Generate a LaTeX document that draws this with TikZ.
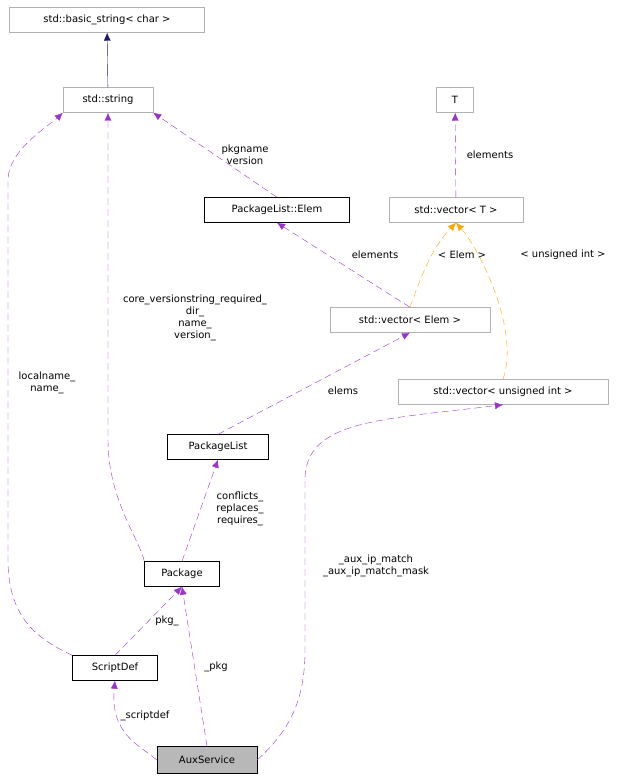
\documentclass[tikz,border=0pt]{standalone}
\usepackage{fontspec}
\setmainfont{DejaVu Sans}
\usetikzlibrary{arrows.meta}
\definecolor{edgepurple}{HTML}{9A32CD}
\definecolor{edgenavy}{HTML}{191970}
\definecolor{edgeorange}{HTML}{FFA500}
\tikzset{
  cls/.style={draw, fill=white, font=\fontsize{10}{12}\selectfont, minimum height=25pt, inner xsep=4pt},
  ext/.style={cls, draw=black!30},
  use/.style={dashed, dash pattern=on 7pt off 4pt, edgepurple, -{Latex[length=8pt,width=7pt]}},
  inst/.style={use, edgeorange},
  lbl/.style={font=\fontsize{10}{12}\selectfont, align=center, text=black}
}
\begin{document}
\begin{tikzpicture}[x=1pt,y=-1pt]
	\useasboundingbox (0,0) rectangle (629,781);
	% classes
	\node (basicstr) [ext, minimum width=195pt] at (107,20) {std::basic\_string< char >};
	\node (str) [ext, minimum width=90pt] at (108,100) {std::string};
	\node (tparam) [ext, minimum width=37pt] at (455,100) {T};
	\node (elem) [cls, minimum width=145pt] at (277,210) {PackageList::Elem};
	\node (vect) [ext, minimum width=134pt] at (456,210) {std::vector< T >};
	\node (vecelem) [ext, minimum width=160pt] at (410,320) {std::vector< Elem >};
	\node (vecuint) [ext, minimum width=210pt] at (503,392) {std::vector< unsigned int >};
	\node (pkglist) [cls, minimum width=101pt] at (218,447) {PackageList};
	\node (pkg) [cls, minimum width=75pt] at (182,574) {Package};
	\node (script) [cls, minimum width=85pt] at (115,668) {ScriptDef};
	\node (aux) [cls, fill=black!28, minimum width=100pt, minimum height=27pt] at (207,760) {AuxService};
	% relations
	\draw [edgenavy, -{Latex[length=8pt,width=7pt]}] (str) -- (basicstr);
	\draw [use] (elem.north) -- (str.south east);
	\draw [use] (pkg.north west) .. controls (140,540) and (108,500) .. (108,440) -- (str.south);
	\draw [use] (script.north west) .. controls (40,640) and (8,620) .. (8,560) -- (8,180) .. controls (8,150) and (50,125) .. (str.south west);
	\draw [use] (vect) -- (tparam);
	\draw [use] (vecelem.north) -- (elem.south);
	\draw [inst] (vecelem.north) .. controls (420,280) and (430,250) .. (vect.south);
	\draw [inst] (vecuint.north) .. controls (520,330) and (480,250) .. (vect.south);
	\draw [use] (pkglist.north) -- (vecelem.south);
	\draw [use] (aux.east) .. controls (290,730) and (305,700) .. (305,650) -- (305,480) .. controls (305,420) and (380,420) .. (vecuint.south);
	\draw [use] (pkg.north) -- (pkglist.south);
	\draw [use] (script.north) -- (pkg.south);
	\draw [use] (aux.north) -- (pkg.south);
	\draw [use] (aux.west) .. controls (140,745) and (110,735) .. (script.south);
	% labels
	\node (lpkgname) [lbl] at (245,155) {pkgname\\version};
	\node (lcore) [lbl] at (195,318) {core\_versionstring\_required\_\\dir\_\\name\_\\version\_};
	\node (llocal) [lbl] at (47,383) {localname\_\\name\_};
	\node (lelemT) [lbl] at (490,155) {elements};
	\node (lelemE) [lbl] at (375,255) {elements};
	\node (lElem) [lbl] at (462,255) {< Elem >};
	\node (luint) [lbl] at (563,255) {< unsigned int >};
	\node (lelems) [lbl] at (343,391) {elems};
	\node (lip) [lbl] at (376,566) {\_aux\_ip\_match\\\_aux\_ip\_match\_mask};
	\node (lconf) [lbl] at (240,509) {conflicts\_\\replaces\_\\requires\_};
	\node (lpkgu) [lbl] at (167,621) {pkg\_};
	\node (lpkg) [lbl] at (216,667) {\_pkg};
	\node (lscript) [lbl] at (145,716) {\_scriptdef};
\end{tikzpicture}
\end{document}
